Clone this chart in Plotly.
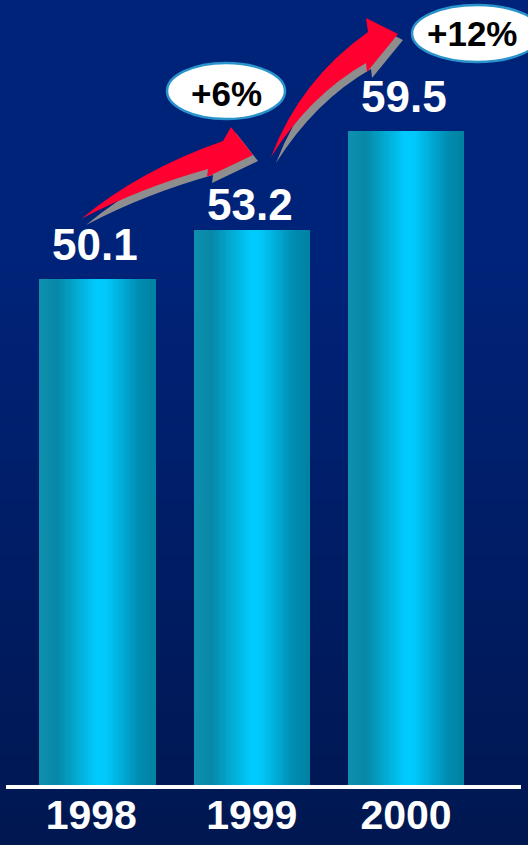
import plotly.graph_objects as go

# ---- data -------------------------------------------------------------
years = ["1998", "1999", "2000"]
values = [50.1, 53.2, 59.5]
growth_labels = ["+6%", "+12%"]

# ---- page geometry (pixels) ------------------------------------------
W, H = 528, 845
PLOT_BOTTOM = 787                     # pixel row of the plot-area bottom
X_RANGE = [-0.632, 2.791]
Y_RANGE = [17.82, 67.82]
BAR_WIDTH = 0.752
YEAR_TICKS = [-0.04, 1, 2]
FONT = "Liberation Sans, Arial, sans-serif"


def to_paper(x, y):
    """Convert page pixels to paper coordinates."""
    return x / W, (PLOT_BOTTOM - y) / PLOT_BOTTOM


def lerp(c0, c1, t):
    return tuple(a + (b - a) * t for a, b in zip(c0, c1))


def rgb(c):
    return "rgb({:.0f},{:.0f},{:.0f})".format(*c)


def ramp(stops, t):
    for (t0, c0), (t1, c1) in zip(stops, stops[1:]):
        if t <= t1:
            return lerp(c0, c1, (t - t0) / (t1 - t0) if t1 > t0 else 0)
    return stops[-1][1]


# ---- background: vertical navy gradient -------------------------------
shapes = []
bg_stops = [(0.0, (0, 35, 122)), (0.30, (0, 35, 122)), (1.0, (0, 23, 80))]
STRIP = 5
for top in range(0, H, STRIP):
    x0, y0 = to_paper(0, top)
    x1, y1 = to_paper(W, min(top + STRIP + 1, H))
    shapes.append(dict(type="rect", xref="paper", yref="paper",
                       x0=x0, x1=x1, y0=y1, y1=y0, layer="below",
                       line=dict(width=0),
                       fillcolor=rgb(ramp(bg_stops, (top + STRIP / 2) / H))))

# ---- bars: cylinder shading built from narrow vertical slices ----------
bar_stops = [(0.0, (14, 144, 174)), (0.15, (6, 136, 166)), (0.50, (0, 204, 255)),
             (0.58, (0, 200, 250)), (0.86, (0, 140, 176)), (1.0, (0, 130, 162))]
N_SLICES = 48
slice_w = BAR_WIDTH / N_SLICES
sx, sy, sc = [], [], []
for i, v in enumerate(values):
    for k in range(N_SLICES):
        t = (k + 0.5) / N_SLICES
        sx.append(i - BAR_WIDTH / 2 + (k + 0.5) * slice_w)
        sy.append(v)
        sc.append(rgb(ramp(bar_stops, t)))

fig = go.Figure()
fig.add_trace(go.Bar(x=sx, y=sy, width=slice_w * 1.12,
                     marker=dict(color=sc, line=dict(width=0)),
                     hoverinfo="skip", showlegend=False))

# ---- baseline ---------------------------------------------------------
bx0, by = to_paper(6, 787)
bx1, _ = to_paper(521, 787)
shapes.append(dict(type="line", xref="paper", yref="paper",
                   x0=bx0, x1=bx1, y0=by, y1=by,
                   line=dict(color="white", width=4)))


# ---- growth arrows (red with grey drop shadow) ------------------------
def arrow_path(segments, dx=0.0, dy=0.0):
    parts = []
    for cmd, *pts in segments:
        coords = " ".join("{:.5f},{:.5f}".format(*to_paper(x + dx, y + dy))
                          for x, y in pts)
        parts.append(f"{cmd} {coords}")
    return " ".join(parts) + " Z"


arrow_1 = [("M", (81, 219)), ("Q", (140, 170), (223, 141)), ("L", (231, 127)),
           ("L", (253, 155)), ("L", (207, 177)), ("L", (208, 169)),
           ("Q", (140, 188), (81, 219))]
arrow_2 = [("M", (271, 157)), ("Q", (300, 80), (368, 32)), ("L", (366, 18)),
           ("L", (398, 34)), ("L", (367, 72)), ("L", (366, 63)),
           ("Q", (310, 95), (271, 157))]

for segs in (arrow_1, arrow_2):
    shapes.append(dict(type="path", xref="paper", yref="paper",
                       path=arrow_path(segs, 5, 6), fillcolor="#8e8e8e",
                       line=dict(width=0)))
    shapes.append(dict(type="path", xref="paper", yref="paper",
                       path=arrow_path(segs), fillcolor="#ff0030",
                       line=dict(width=0)))

# ---- growth bubbles ---------------------------------------------------
bubble_boxes = [(167, 63, 285, 119), (412, 5, 542, 62)]
bubble_text_at = [(226, 93), (472, 33)]
annotations = []
for (bx_0, by_0, bx_1, by_1), (tx, ty), label in zip(
        bubble_boxes, bubble_text_at, growth_labels):
    ex0, ey0 = to_paper(bx_0, by_0)
    ex1, ey1 = to_paper(bx_1, by_1)
    shapes.append(dict(type="circle", xref="paper", yref="paper",
                       x0=ex0, x1=ex1, y0=ey1, y1=ey0, fillcolor="white",
                       line=dict(color="#2a93cc", width=2.5)))
    px, py = to_paper(tx, ty)
    annotations.append(dict(x=px, y=py, xref="paper", yref="paper",
                            text=label, showarrow=False,
                            xanchor="center", yanchor="middle",
                            font=dict(family=FONT, size=35, color="black",
                                      weight="bold")))

# ---- value labels -----------------------------------------------------
label_lift = [8, -1, 8]
for i, v in enumerate(values):
    annotations.append(dict(x=i, y=v, xref="x", yref="y", text=f"{v:.1f}",
                            showarrow=False, xanchor="center",
                            yanchor="bottom",
                            yshift=label_lift[i], xshift=-2,
                            font=dict(family=FONT, size=44, color="white",
                                      weight="bold")))

fig.update_layout(
    width=W, height=H,
    margin=dict(l=0, r=0, t=0, b=H - PLOT_BOTTOM, pad=0),
    paper_bgcolor="rgb(0,30,105)", plot_bgcolor="rgba(0,0,0,0)",
    barmode="overlay", bargap=0,
    shapes=shapes, annotations=annotations,
    xaxis=dict(range=X_RANGE, tickvals=YEAR_TICKS, ticktext=years,
               showgrid=False, zeroline=False, showline=False, ticks="",
               tickfont=dict(family=FONT, size=41, color="white",
                             weight="bold"),
               fixedrange=True),
    yaxis=dict(range=Y_RANGE, visible=False, fixedrange=True),
    showlegend=False,
)

fig.write_html("out.html", config={"displayModeBar": False})
